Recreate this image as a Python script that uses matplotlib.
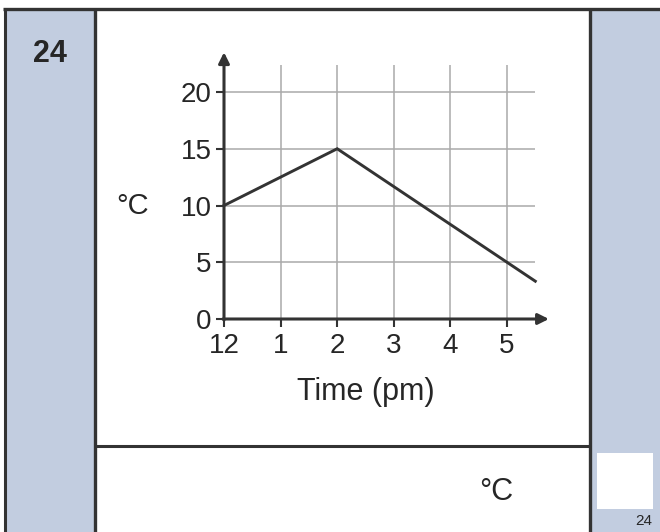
import matplotlib
matplotlib.use("Agg")
import matplotlib.pyplot as plt
from matplotlib.patches import Rectangle

# data
times = [0, 2, 5.5]          # hours after 12 pm
temps = [10, 15, 3.33]       # degrees C
xtick_pos = [0, 1, 2, 3, 4, 5]
xtick_labels = ["12", "1", "2", "3", "4", "5"]
ytick_pos = [0, 5, 10, 15, 20]

plt.rcParams['font.family'] = ['Liberation Sans', 'DejaVu Sans']
dark = '#333333'
txt = '#262626'
blue = '#c2cde0'
grid = '#aaaaaa'

W, H = 660, 532
fig = plt.figure(figsize=(W / 100, H / 100), dpi=100)

# background frame in pixel coords
bg = fig.add_axes([0, 0, 1, 1])
bg.set_xlim(0, W)
bg.set_ylim(H, 0)
bg.axis('off')
bg.add_patch(Rectangle((4, 9), 91, H, color=blue, lw=0))
bg.add_patch(Rectangle((590, 9), 70, H, color=blue, lw=0))
bg.add_patch(Rectangle((597, 453), 56, 56, color='white', lw=0))
bg.plot([3, W], [9, 9], color=dark, lw=2.4, solid_capstyle='butt')
bg.plot([4.5, 4.5], [9, H], color=dark, lw=2.2, solid_capstyle='butt')
bg.plot([94.5, 94.5], [9, H], color=dark, lw=2.4, solid_capstyle='butt')
bg.plot([589.5, 589.5], [9, H], color=dark, lw=2.4, solid_capstyle='butt')
bg.plot([95, 589], [446, 446], color=dark, lw=2.2, solid_capstyle='butt')
bg.text(50, 54, "24", fontsize=22, fontweight='bold', color=txt,
        ha='center', va='center')
bg.text(496, 492, "°C", fontsize=22, color=txt, ha='center', va='center')
bg.text(644, 521, "24", fontsize=11, color=txt, ha='center', va='center')
bg.text(133, 206, "°C", fontsize=21, color=txt, ha='center', va='center')
bg.text(366, 392, "Time (pm)", fontsize=22, color=txt, ha='center', va='center')

# chart axes
x0, y0 = 224, 319
xmax, ymax = 5.74, 23.5
pxx, pxy = 56.6, 11.35
ax = fig.add_axes([x0 / W, (H - y0) / H, xmax * pxx / W, ymax * pxy / H])
ax.set_xlim(0, xmax)
ax.set_ylim(0, ymax)
ax.patch.set_alpha(0)
for s in ax.spines.values():
    s.set_visible(False)

ax.vlines(xtick_pos[1:], 0, 22.4, color=grid, lw=1.1, zorder=1)
ax.hlines(ytick_pos[1:], 0, 5.5, color=grid, lw=1.1, zorder=1)

ax.plot(times, temps, color=dark, lw=2.1, zorder=3, clip_on=False,
        solid_joinstyle='miter')

arrow = dict(arrowstyle='-|>', lw=2.2, color=dark, mutation_scale=16,
             shrinkA=0, shrinkB=0)
ax.annotate('', xy=(xmax, 0), xytext=(-0.02, 0), arrowprops=arrow,
            annotation_clip=False, zorder=4)
ax.annotate('', xy=(0, ymax), xytext=(0, -0.1), arrowprops=arrow,
            annotation_clip=False, zorder=4)

ax.set_xticks(xtick_pos)
ax.set_xticklabels(xtick_labels)
ax.set_yticks(ytick_pos)
ax.tick_params(axis='both', length=6, width=1.5, color=dark,
               labelsize=20, labelcolor=txt)
ax.tick_params(axis='x', pad=4)
ax.tick_params(axis='y', pad=3)

fig.savefig("out.png", dpi=100)
